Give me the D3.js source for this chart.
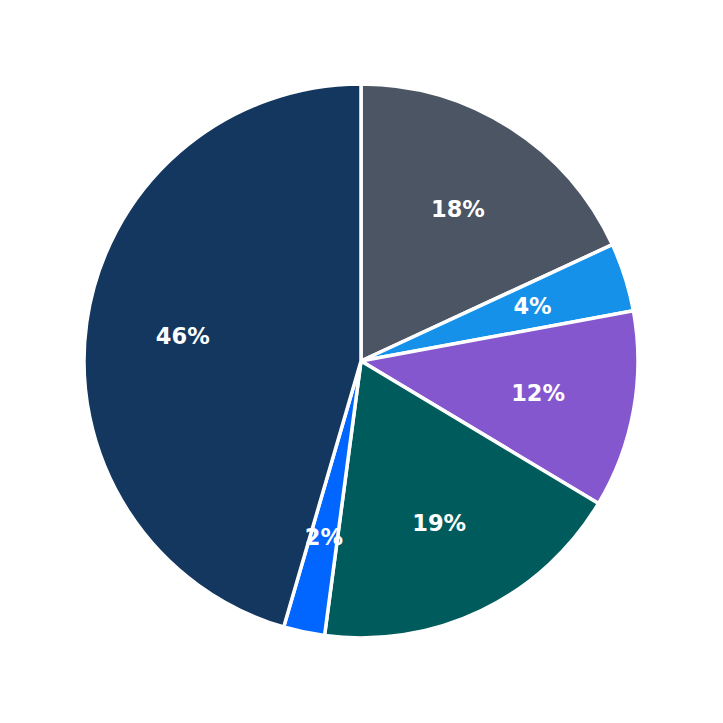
<!DOCTYPE html>
<html>
<head>
<meta charset="utf-8">
<script src="https://cdn.jsdelivr.net/npm/d3@7"></script>
<style>
html,body{margin:0;padding:0;background:#fff;}
</style>
</head>
<body>
<svg id="chart" width="723" height="723"></svg>
<script>
const categories = ["A", "B", "C", "D", "E", "F"];
const values = [18.1, 4.0, 11.5, 18.5, 2.4, 45.5];
const colors = ["#4b5563", "#1591ea", "#8457cf", "#005c5c", "#0066ff", "#14375f"];

const W = 723, H = 723, cx = 361, cy = 361, R = 277;
const svg = d3.select("#chart");
const g = svg.append("g").attr("transform", `translate(${cx},${cy})`);

const total = d3.sum(values);
const pie = d3.pie().sort(null).value(d => d.v);
const data = pie(categories.map((c, i) => ({c, v: values[i], col: colors[i]})));
const arc = d3.arc().innerRadius(0).outerRadius(R);
const labelArc = d3.arc().innerRadius(180).outerRadius(180);

g.selectAll("path").data(data).enter().append("path")
  .attr("d", arc)
  .attr("fill", d => d.data.col)
  .attr("stroke", "#fff")
  .attr("stroke-width", 3.5)
  .attr("stroke-linejoin", "round");

g.selectAll("text").data(data).enter().append("text")
  .attr("transform", d => `translate(${labelArc.centroid(d)})`)
  .attr("text-anchor", "middle")
  .attr("dominant-baseline", "central")
  .attr("fill", "#fff")
  .attr("font-family", "DejaVu Sans, sans-serif")
  .attr("font-weight", "bold")
  .attr("font-size", 22.5)
  .text(d => Math.round(d.data.v / total * 100) + "%");
</script>
</body>
</html>
